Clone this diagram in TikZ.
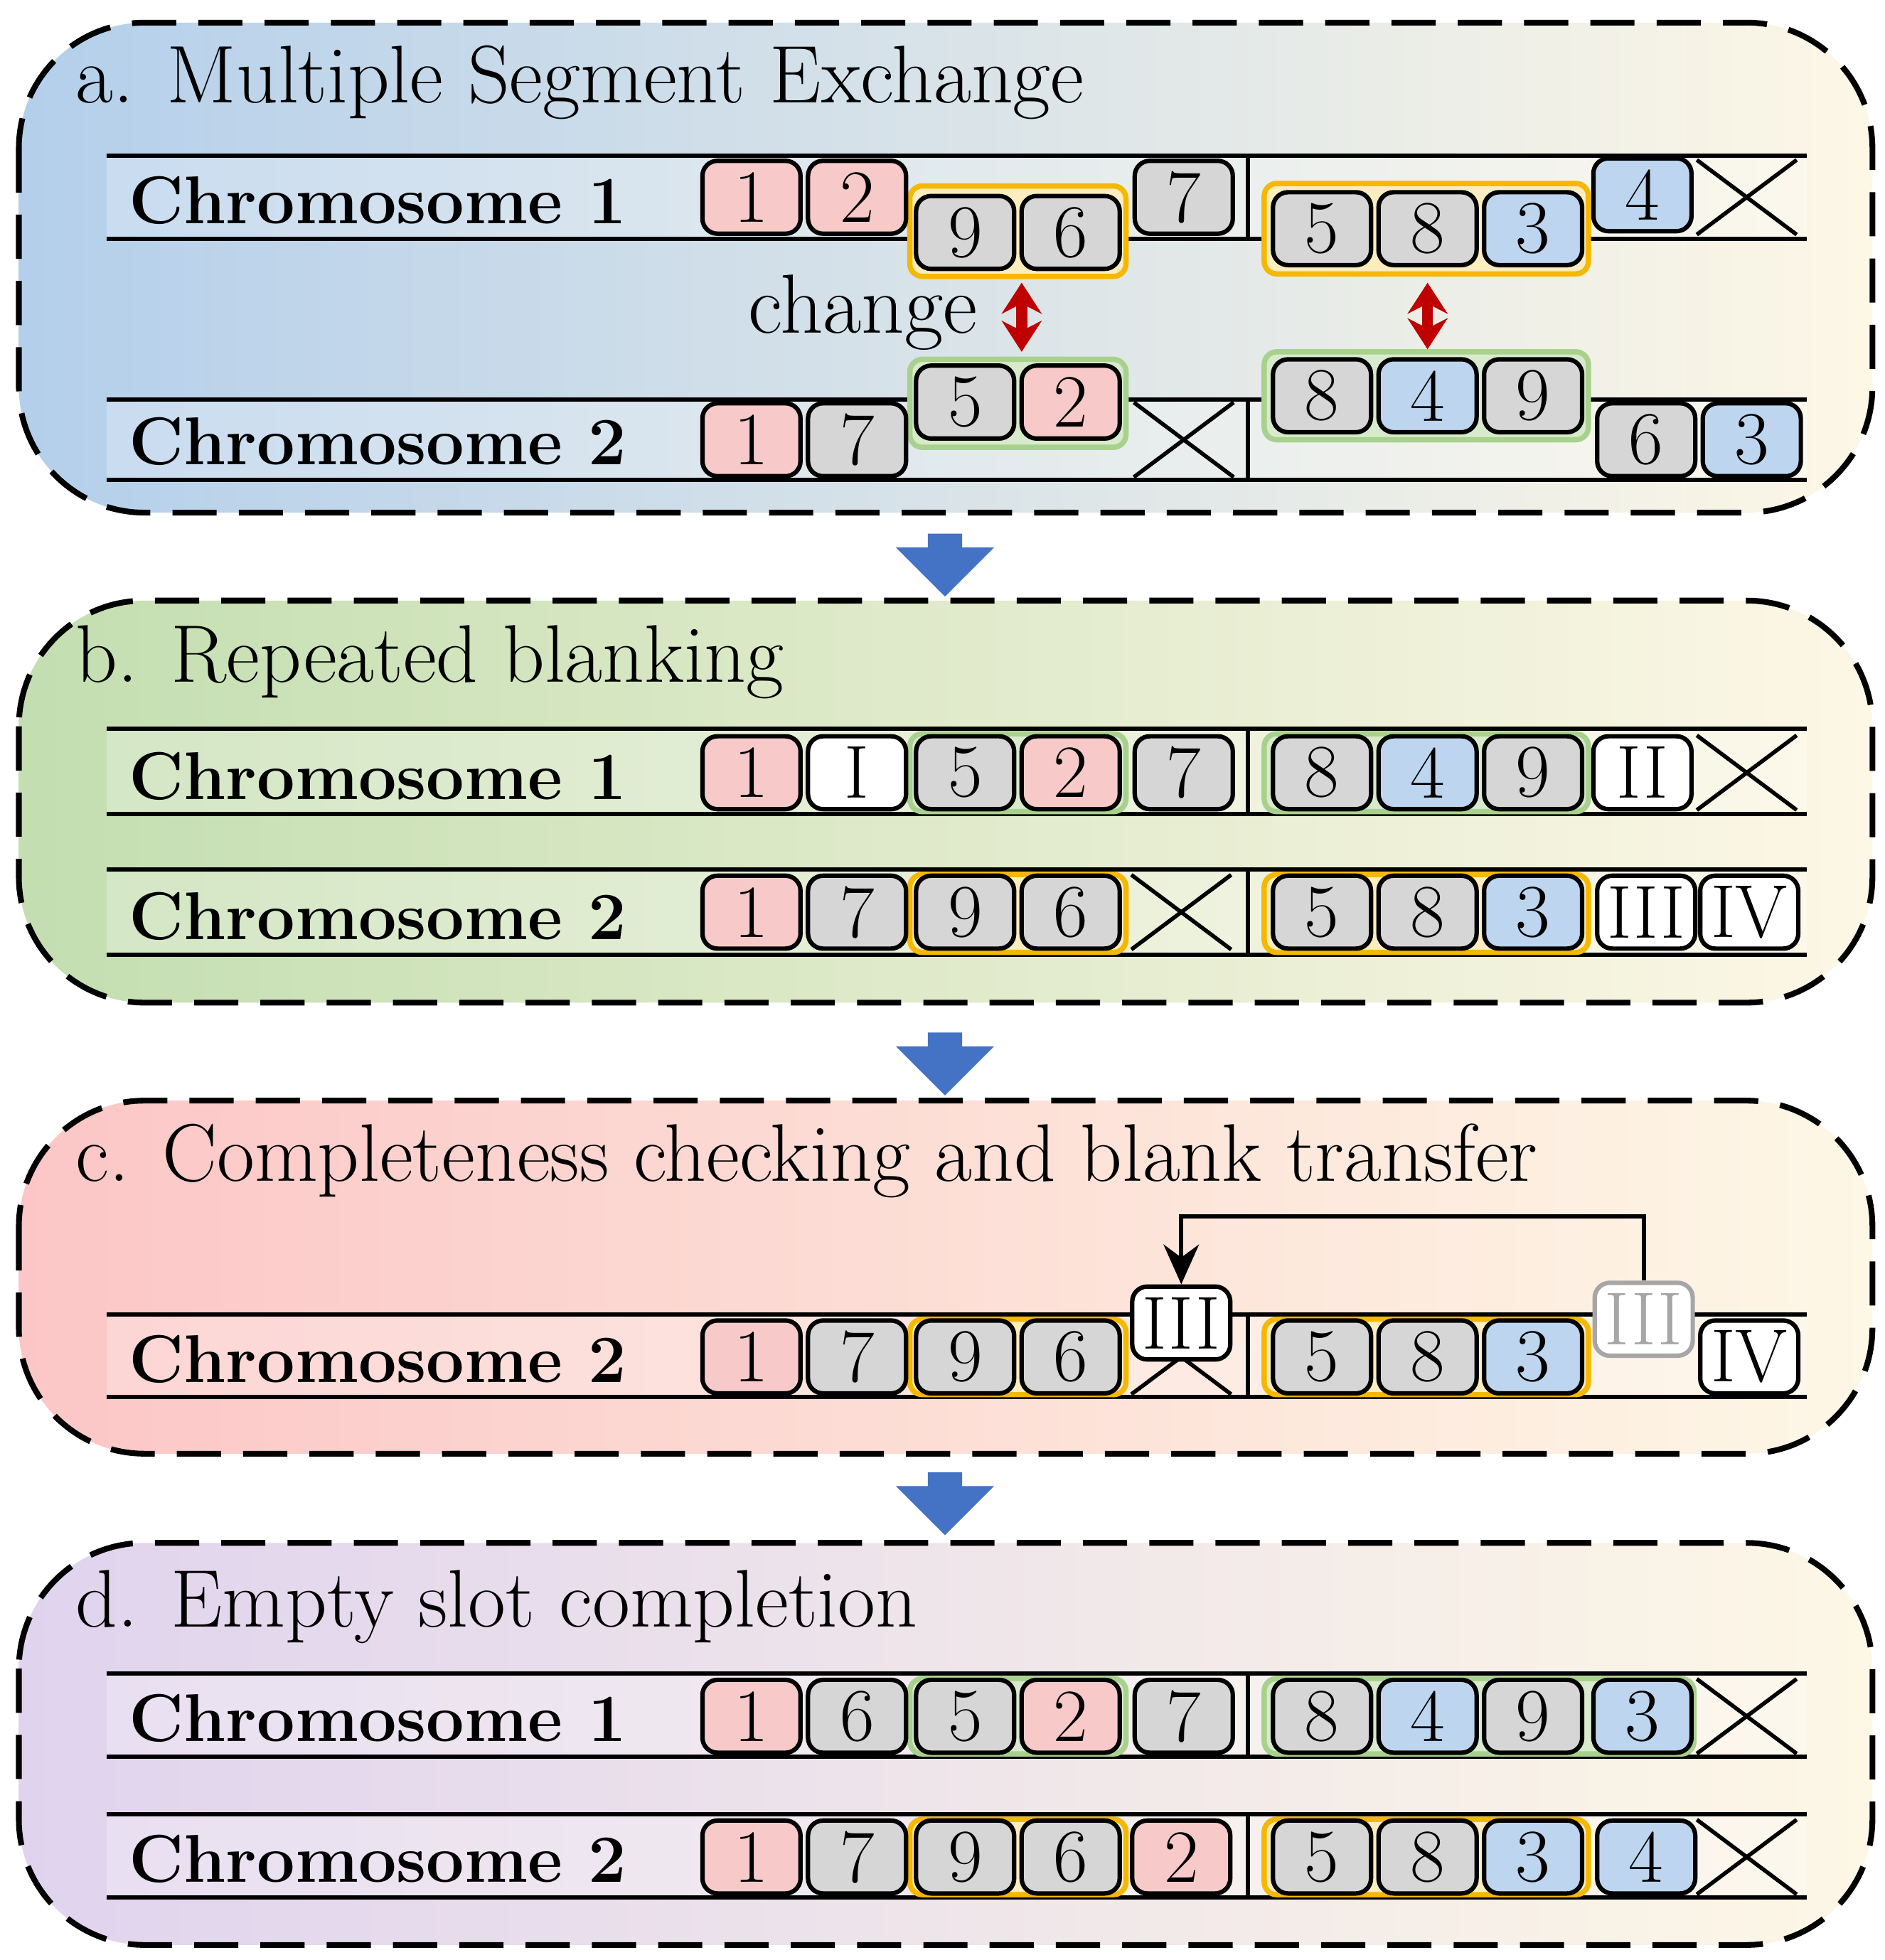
\documentclass[tikz,border=0pt]{standalone}
\usetikzlibrary{positioning,shapes.arrows,arrows.meta}
\definecolor{genered}{HTML}{F8C9C9}
\definecolor{genegrey}{HTML}{D6D6D6}
\definecolor{geneblue}{HTML}{BDD5EE}
\definecolor{grporange}{HTML}{F5B800}
\definecolor{grpgreen}{HTML}{A9D18E}
\definecolor{paleend}{HTML}{FDF7E6}
\definecolor{flowblue}{HTML}{4472C4}
\definecolor{panelblue}{HTML}{B4CFEB}
\definecolor{panelgreen}{HTML}{C3DEB0}
\definecolor{panelred}{HTML}{FCC6C6}
\definecolor{panelviolet}{HTML}{E0D3EE}
\tikzset{
  gene/.style={draw, line width=1pt, rounded corners=1.2mm, minimum width=0.78cm,
    minimum height=0.58cm, inner sep=0pt, font=\fontsize{17}{17}\selectfont},
  red/.style={gene, fill=genered},
  grey/.style={gene, fill=genegrey},
  blue/.style={gene, fill=geneblue},
  blank/.style={gene, fill=white},
  faded/.style={gene, fill=white, draw=black!35, text=black!35},
  cross/.style={minimum width=0.78cm, minimum height=0.58cm, inner sep=0pt},
  ogroup/.style={draw=grporange, line width=1.2pt, fill=grporange!25, rounded corners=1mm},
  ggroup/.style={draw=grpgreen, line width=1.2pt, fill=grpgreen!45, rounded corners=1mm},
  panel/.style={draw, line width=1.3pt, dash pattern=on 10pt off 5pt, rounded corners=1cm},
  title/.style={anchor=base west, font=\fontsize{18.5}{18.5}\selectfont},
  chromlabel/.style={anchor=base west, font=\bfseries\fontsize{15.3}{15.3}\selectfont},
  flow/.style={single arrow, fill=flowblue, draw=none, rotate=-90, minimum height=0.5cm,
    minimum width=0.78cm, single arrow head extend=0.2cm, inner sep=0.1cm},
  swap/.style={{Stealth[length=7pt,width=9pt]}-{Stealth[length=7pt,width=9pt]}, red!75!black, line width=2.5pt}
}
% chromosome strip: name, top y, bottom y, label
\newcommand{\chromrow}[4]{
  \fill[white, opacity=0.25] (85,#2) rectangle (1438,#3);
  \draw[line width=1pt] (85,#2) -- (1438,#2);
  \draw[line width=1pt] (85,#3) -- (1438,#3);
  \draw[line width=1pt] (993,#2) -- (993,#3);
  \node[chromlabel] (#1) at (90,#3-12) {#4};
}
\newcommand{\crossbox}[3]{
  \node[cross] (#1) at (#2,#3) {};
  \draw[line width=0.9pt] (#1.north west) -- (#1.south east);
  \draw[line width=0.9pt] (#1.south west) -- (#1.north east);
}
\begin{document}
\begin{tikzpicture}[x=0.01cm, y=-0.01cm]
\useasboundingbox (0,0) rectangle (1500,1560);

% panels
\draw[panel, left color=panelblue, right color=paleend] (15,18) rectangle (1490,408);
\draw[panel, left color=panelgreen, right color=paleend] (15,478) rectangle (1490,798);
\draw[panel, left color=panelred, right color=paleend] (15,876) rectangle (1490,1157);
\draw[panel, left color=panelviolet, right color=paleend] (15,1228) rectangle (1490,1548);

\node[title] (ta) at (48,82) {a. Multiple Segment Exchange};
\node[title] (tb) at (48,543) {b. Repeated blanking};
\node[title] (tc) at (48,940) {c. Completeness checking and blank transfer};
\node[title] (td) at (48,1295) {d. Empty slot completion};

\node[flow] (f1) at (752,443) {};
\node[flow] (f2) at (752,840) {};
\node[flow] (f3) at (752,1190) {};

% ---- a
\chromrow{ca1}{124}{190}{Chromosome 1}
\chromrow{ca2}{318}{382}{Chromosome 2}
\draw[ogroup] (724,148) rectangle (896,220);
\draw[ogroup] (1006,146) rectangle (1264,218);
\draw[ggroup] (724,286) rectangle (896,356);
\draw[ggroup] (1006,280) rectangle (1264,350);
\node[red] (a11) at (598,157) {1};
\node[red] (a12) at (682,157) {2};
\node[grey] (a13) at (768,185) {9};
\node[grey] (a14) at (852,185) {6};
\node[grey] (a15) at (942,157) {7};
\node[grey] (a16) at (1052,182) {5};
\node[grey] (a17) at (1136,182) {8};
\node[blue] (a18) at (1220,182) {3};
\node[blue] (a19) at (1307,155) {4};
\crossbox{a1x}{1390}{157}
\node[red] (a21) at (598,350) {1};
\node[grey] (a22) at (682,350) {7};
\node[grey] (a23) at (768,320) {5};
\node[red] (a24) at (852,320) {2};
\crossbox{a2x}{942}{350}
\node[grey] (a25) at (1052,315) {8};
\node[blue] (a26) at (1136,315) {4};
\node[grey] (a27) at (1220,315) {9};
\node[grey] (a28) at (1310,350) {6};
\node[blue] (a29) at (1394,350) {3};
\node[font=\fontsize{19}{19}\selectfont, anchor=base east] (chg) at (790,265) {change};
\coordinate (u1) at (813,225);
\coordinate (d1) at (813,280);
\coordinate (u2) at (1136,225);
\coordinate (d2) at (1136,278);
\draw[swap] (u1) -- (d1);
\draw[swap] (u2) -- (d2);

% ---- b
\chromrow{cb1}{580}{648}{Chromosome 1}
\chromrow{cb2}{692}{760}{Chromosome 2}
\draw[ggroup] (724,584) rectangle (896,646);
\draw[ggroup] (1006,584) rectangle (1264,646);
\draw[ogroup] (724,696) rectangle (896,758);
\draw[ogroup] (1006,696) rectangle (1264,758);
\node[red] (b11) at (598,615) {1};
\node[blank] (b12) at (682,615) {I};
\node[grey] (b13) at (768,615) {5};
\node[red] (b14) at (852,615) {2};
\node[grey] (b15) at (942,615) {7};
\node[grey] (b16) at (1052,615) {8};
\node[blue] (b17) at (1136,615) {4};
\node[grey] (b18) at (1220,615) {9};
\node[blank] (b19) at (1307,615) {II};
\crossbox{b1x}{1390}{615}
\node[red] (b21) at (598,726) {1};
\node[grey] (b22) at (682,726) {7};
\node[grey] (b23) at (768,726) {9};
\node[grey] (b24) at (852,726) {6};
\crossbox{b2x}{940}{726}
\node[grey] (b25) at (1052,726) {5};
\node[grey] (b26) at (1136,726) {8};
\node[blue] (b27) at (1220,726) {3};
\node[blank] (b28) at (1310,726) {III};
\node[blank] (b29) at (1392,726) {IV};

% ---- c
\chromrow{cc2}{1046}{1112}{Chromosome 2}
\draw[ogroup] (724,1050) rectangle (896,1110);
\draw[ogroup] (1006,1050) rectangle (1264,1110);
\node[red] (c21) at (598,1080) {1};
\node[grey] (c22) at (682,1080) {7};
\node[grey] (c23) at (768,1080) {9};
\node[grey] (c24) at (852,1080) {6};
\crossbox{c2x}{940}{1080}
\node[blank] (c2b) at (940,1053) {III};
\node[grey] (c25) at (1052,1080) {5};
\node[grey] (c26) at (1136,1080) {8};
\node[blue] (c27) at (1220,1080) {3};
\node[faded] (c28) at (1308,1050) {III};
\node[blank] (c29) at (1392,1080) {IV};
\draw[-{Stealth[length=9pt,width=8pt]}, line width=1pt] (c28.north) |- (940,968) -- (c2b.north);

% ---- d
\chromrow{cd1}{1332}{1398}{Chromosome 1}
\chromrow{cd2}{1444}{1510}{Chromosome 2}
\draw[ggroup] (724,1336) rectangle (896,1396);
\draw[ggroup] (1006,1336) rectangle (1348,1396);
\draw[ogroup] (724,1448) rectangle (896,1508);
\draw[ogroup] (1006,1448) rectangle (1264,1508);
\node[red] (d11) at (598,1366) {1};
\node[grey] (d12) at (682,1366) {6};
\node[grey] (d13) at (768,1366) {5};
\node[red] (d14) at (852,1366) {2};
\node[grey] (d15) at (942,1366) {7};
\node[grey] (d16) at (1052,1366) {8};
\node[blue] (d17) at (1136,1366) {4};
\node[grey] (d18) at (1220,1366) {9};
\node[blue] (d19) at (1307,1366) {3};
\crossbox{d1x}{1390}{1366}
\node[red] (d21) at (598,1478) {1};
\node[grey] (d22) at (682,1478) {7};
\node[grey] (d23) at (768,1478) {9};
\node[grey] (d24) at (852,1478) {6};
\node[red] (d25) at (940,1478) {2};
\node[grey] (d26) at (1052,1478) {5};
\node[grey] (d27) at (1136,1478) {8};
\node[blue] (d28) at (1220,1478) {3};
\node[blue] (d29) at (1310,1478) {4};
\crossbox{d2x}{1390}{1478}
\end{tikzpicture}
\end{document}
